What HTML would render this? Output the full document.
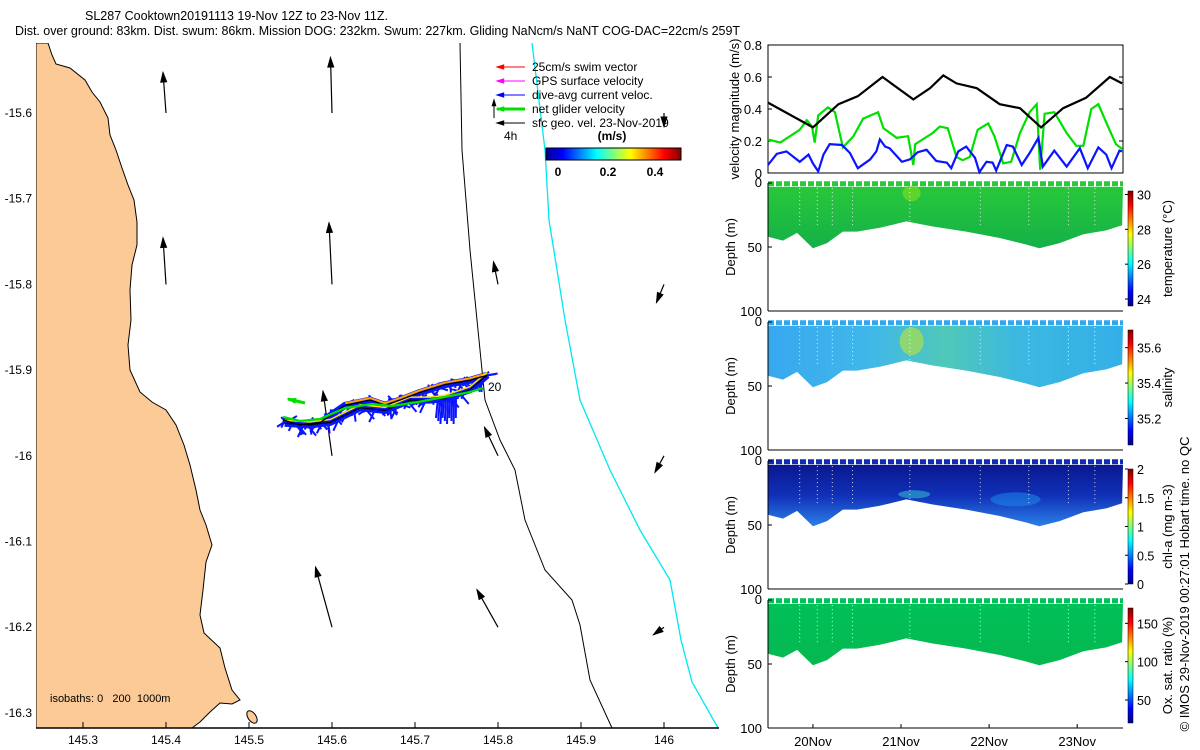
<!DOCTYPE html>
<html><head><meta charset="utf-8"><style>
html,body{margin:0;padding:0;background:#fff}
svg{display:block;font-family:"Liberation Sans",sans-serif}
</style></head><body>
<svg id="fig" width="1200" height="750" viewBox="0 0 1200 750" xmlns="http://www.w3.org/2000/svg">
<defs>
<linearGradient id="jetV" x1="0" y1="1" x2="0" y2="0">
<stop offset="0" stop-color="#00008f"/><stop offset="0.125" stop-color="#0000ff"/><stop offset="0.375" stop-color="#00ffff"/><stop offset="0.625" stop-color="#ffff00"/><stop offset="0.875" stop-color="#ff0000"/><stop offset="1" stop-color="#800000"/></linearGradient>
<linearGradient id="jetH" x1="0" y1="0" x2="1" y2="0">
<stop offset="0" stop-color="#00008f"/><stop offset="0.125" stop-color="#0000ff"/><stop offset="0.375" stop-color="#00ffff"/><stop offset="0.625" stop-color="#ffff00"/><stop offset="0.875" stop-color="#ff0000"/><stop offset="1" stop-color="#800000"/></linearGradient>
<linearGradient id="gTemp" x1="0" y1="0" x2="0" y2="1"><stop offset="0" stop-color="#28c83a"/><stop offset="1" stop-color="#14b048"/></linearGradient>
<linearGradient id="gSal" x1="0" y1="0" x2="1" y2="0"><stop offset="0" stop-color="#38a8f0"/><stop offset="0.3" stop-color="#40b8e8"/><stop offset="0.5" stop-color="#50c8b8"/><stop offset="0.7" stop-color="#3cb8e0"/><stop offset="1" stop-color="#34b0e8"/></linearGradient>
<linearGradient id="gChl" x1="0" y1="0" x2="0" y2="1"><stop offset="0" stop-color="#0a1890"/><stop offset="0.5" stop-color="#1030b8"/><stop offset="1" stop-color="#2c80e8"/></linearGradient>
<linearGradient id="gOx" x1="0" y1="0" x2="0" y2="1"><stop offset="0" stop-color="#00c058"/><stop offset="1" stop-color="#06b850"/></linearGradient>
<clipPath id="mapClip"><rect x="36" y="43" width="683" height="685"/></clipPath>
</defs>

<text x="85" y="20" font-size="12.5">SL287 Cooktown20191113 19-Nov 12Z to 23-Nov 11Z.</text>
<text x="15" y="35" font-size="12.5" textLength="725">Dist. over ground: 83km. Dist. swum: 86km. Mission DOG: 232km. Swum: 227km. Gliding NaNcm/s NaNT COG-DAC=22cm/s 259T</text>

<g id="map"></g>
<g id="vel"></g>
<g id="sections"></g>

<text transform="translate(1189,584) rotate(-90)" font-size="13" text-anchor="middle">© IMOS 29-Nov-2019 00:27:01 Hobart time. no QC</text>
</svg>
<script>
const NS='http://www.w3.org/2000/svg';
function mk(tag,attrs,parent,txt){const e=document.createElementNS(NS,tag);for(const k in attrs)e.setAttribute(k,attrs[k]);if(txt!==undefined)e.textContent=txt;parent.appendChild(e);return e;}

// ---------------- MAP DATA ----------------
const mapLonTicks=[145.3,145.4,145.5,145.6,145.7,145.8,145.9,146];
const mapLatTicks=[-15.6,-15.7,-15.8,-15.9,-16,-16.1,-16.2,-16.3];
const arrowLon=[145.4,145.6,145.8,146.0,145.4,145.6,145.8,146.0,145.6,145.8,146.0,145.6,145.8,146.0];
const arrowLat=[-15.6,-15.6,-15.6,-15.6,-15.8,-15.8,-15.8,-15.8,-16.0,-16.0,-16.0,-16.2,-16.2,-16.2];
const arrowU=[-0.02,-0.01,0,0,-0.02,-0.02,-0.03,-0.05,-0.06,-0.09,-0.06,-0.11,-0.14,-0.07];
const arrowV=[0.27,0.37,0,-0.09,0.31,0.41,0.15,-0.12,0.43,0.19,-0.11,0.40,0.25,-0.05];
const trackLon=[145.541,145.561,145.586,145.616,145.646,145.664,145.682,145.706,145.736,145.766,145.787,145.766,145.736,145.718,145.694,145.664,145.634,145.598,145.573,145.543];
const trackLat=[-15.958,-15.964,-15.961,-15.941,-15.935,-15.941,-15.935,-15.926,-15.917,-15.912,-15.906,-15.923,-15.933,-15.935,-15.935,-15.947,-15.944,-15.961,-15.964,-15.962];

const mx=lon=>83+(lon-145.3)*830;
const my=lat=>113+(-15.6-lat)*857;

const map=document.getElementById('map');
const mc=mk('g',{'clip-path':'url(#mapClip)'},map);
const coast=[[36,43],[48,43],[52,55],[56,64],[70,68],[85,80],[92,92],[100,102],[108,118],[110,135],[116,150],[122,168],[128,185],[134,200],[137,222],[137,245],[132,265],[130,290],[131,320],[128,345],[130,370],[140,392],[152,402],[166,410],[176,425],[184,445],[190,465],[196,490],[200,510],[206,525],[212,545],[206,562],[203,590],[200,615],[204,633],[220,648],[225,668],[232,690],[240,700],[232,704],[220,703],[210,712],[200,722],[192,728],[36,728]];
const land=mk('polygon',{points:coast.map(p=>p.join(',')).join(' '),fill:'#fcca96',stroke:'#000','stroke-width':1},mc);


const isl=mk('ellipse',{cx:252,cy:717,rx:4,ry:7,fill:'#fcca96',stroke:'#000','stroke-width':1,transform:'rotate(-35 252 717)'},mc);


const iso200=[[460,43],[462,150],[470,250],[478,330],[485,400],[500,440],[515,470],[525,520],[545,570],[572,600],[580,625],[590,680],[612,728]];
const iso1000=[[532,43],[545,150],[549,220],[565,320],[580,400],[610,470],[640,530],[670,580],[681,640],[692,682],[718,728]];
const i2=mk('polyline',{points:iso200.map(p=>p.join(',')).join(' '),fill:'none',stroke:'#000','stroke-width':1},mc);


const i1=mk('polyline',{points:iso1000.map(p=>p.join(',')).join(' '),fill:'none',stroke:'#00e8f0','stroke-width':1.3},mc);



function arrow(g,x1,y1,x2,y2,color,w,head){
  mk('line',{x1,y1,x2,y2,stroke:color,'stroke-width':w},g);
  const a=Math.atan2(y2-y1,x2-x1),h=head||8;
  const p1=[x2-h*Math.cos(a-0.3),y2-h*Math.sin(a-0.3)],p2=[x2-h*Math.cos(a+0.3),y2-h*Math.sin(a+0.3)];
  mk('polygon',{points:`${x2},${y2} ${p1} ${p2}`,fill:color,stroke:color,'stroke-width':1},g);
}
const SC=150;
for(let i=0;i<arrowLon.length;i++){
  if(arrowU[i]===0&&arrowV[i]===0)continue;
  const g=mk('g',{},mc);
  
  
  const x=mx(arrowLon[i]),y=my(arrowLat[i]);
  arrow(g,x,y,x+arrowU[i]*SC,y-arrowV[i]*SC,'#000',1.2,10);
}
const trk=mk('g',{},mc);


const tp=trackLon.map((l,i)=>[mx(l),my(trackLat[i])]);
for(let i=0;i<tp.length-1;i++){
  const [x1,y1]=tp[i],[x2,y2]=tp[i+1];
  for(let k=0;k<10;k++){
    const t=k/10,x=x1+(x2-x1)*t,y=y1+(y2-y1)*t;
    const ang=Math.PI*(0.1+1.8*((k*7+i*3)%10)/10);
    const L=5+((k*5+i)%4)*3;
    mk('line',{x1:x,y1:y,x2:x+L*Math.cos(ang),y2:y+L*Math.abs(Math.sin(ang))*((k%3)?1:-0.5),stroke:'#0a14ff','stroke-width':2},trk);
  }
}
mk('polyline',{points:tp.map(p=>p.join(',')).join(' '),fill:'none',stroke:'#0a14ff','stroke-width':7},trk);
for(let k=0;k<10;k++){mk('line',{x1:438+k*2,y1:398,x2:436+k*2.2,y2:418+(k%3)*3,stroke:'#0a14ff','stroke-width':2},trk);}
mk('polyline',{points:tp.slice(3,11).map(p=>p.join(',')).join(' '),fill:'none',stroke:'#ffa000','stroke-width':2,transform:'translate(0,-2)'},trk);
mk('polyline',{points:tp.slice(10).map(p=>p.join(',')).join(' '),fill:'none',stroke:'#ffe000','stroke-width':1.5,transform:'translate(0,-3)'},trk);
mk('polyline',{points:tp.map(p=>p.join(',')).join(' '),fill:'none',stroke:'#000','stroke-width':1.2},trk);
mk('polyline',{points:'283,417 300,421 320,419 345,408 372,404 392,406 418,402 445,397 470,392 483,388',fill:'none',stroke:'#00e000','stroke-width':2.2},trk);
arrow(trk,305,403,288,399,'#00e000',3,8);
mk('text',{x:488,y:391,'font-size':12},mc,'20');

const ax=mk('g',{},map);


mk('line',{x1:36,y1:728,x2:719,y2:728,stroke:'#000','stroke-width':1.5},ax);
mapLonTicks.forEach(l=>{const x=mx(l);mk('line',{x1:x,y1:728,x2:x,y2:722,stroke:'#000'},ax);
  const t=mk('text',{x:x,y:744,'font-size':12,'text-anchor':'middle'},ax,String(l));});
mapLatTicks.forEach(l=>{const y=my(l);
  const t=mk('text',{x:32,y:y+4,'font-size':12,'text-anchor':'end'},ax,String(l));});
const isoT=mk('text',{x:50,y:702,'font-size':11,style:'white-space:pre'},map,'isobaths: 0   200  1000m');



const lg=mk('g',{},map);


const legItems=[['#ff0000','25cm/s swim vector',1],['#ff00ff','GPS surface velocity',1],['#0000ff','dive-avg current veloc.',1],['#00e000','net glider velocity',3],['#000','sfc geo. vel. 23-Nov-2019',1]];
legItems.forEach((it,i)=>{const y=67+i*14;arrow(lg,525,y,497,y,it[0],it[2],7);mk('text',{x:532,y:y+4,'font-size':12},lg,it[1]);});
arrow(lg,494,118,494,100,'#000',1,6);
mk('text',{x:504,y:140,'font-size':12},lg,'4h');
mk('text',{x:612,y:140,'font-size':12,'font-weight':'bold','text-anchor':'middle'},lg,'(m/s)');
const hcb=mk('rect',{x:546,y:148,width:135,height:12,fill:'url(#jetH)',stroke:'#000','stroke-width':1},lg);


[['0',558],['0.2',608],['0.4',655]].forEach(a=>mk('text',{x:a[1],y:176,'font-size':12,'font-weight':'bold','text-anchor':'middle'},lg,a[0]));

// ---------------- VELOCITY DATA ----------------
const velTicks=[0,0.2,0.4,0.6,0.8];
const blackT=[19.49,20.00,20.29,20.51,20.79,21.14,21.33,21.48,21.63,21.86,22.12,22.35,22.59,22.84,23.10,23.37,23.51];
const blackV=[0.44,0.285,0.43,0.48,0.60,0.46,0.53,0.61,0.56,0.53,0.43,0.405,0.285,0.405,0.47,0.60,0.56];
const greenT=[19.49,19.63,19.85,19.93,19.99,20.02,20.06,20.17,20.25,20.34,20.46,20.57,20.74,20.80,20.95,21.08,21.14,21.16,21.36,21.44,21.53,21.63,21.70,21.78,21.87,21.99,22.06,22.16,22.25,22.35,22.46,22.54,22.58,22.63,22.74,22.88,22.99,23.07,23.16,23.24,23.35,23.44,23.51];
const greenV=[0.21,0.19,0.27,0.33,0.29,0.19,0.36,0.41,0.38,0.16,0.23,0.34,0.38,0.28,0.22,0.23,0.05,0.18,0.25,0.29,0.28,0.10,0.08,0.10,0.27,0.31,0.23,0.06,0.07,0.25,0.38,0.43,0.02,0.37,0.38,0.25,0.17,0.17,0.40,0.43,0.29,0.18,0.15];
const blueT=[19.49,19.59,19.70,19.85,19.95,20.00,20.06,20.12,20.19,20.33,20.42,20.51,20.65,20.72,20.76,20.82,20.87,21.01,21.10,21.19,21.29,21.40,21.52,21.57,21.65,21.74,21.84,21.89,21.97,22.04,22.08,22.20,22.27,22.37,22.46,22.56,22.61,22.74,22.88,23.03,23.12,23.24,23.33,23.39,23.48,23.51];
const blueV=[0.05,0.12,0.135,0.07,0.115,0.06,0.01,0.115,0.18,0.175,0.125,0.03,0.085,0.135,0.21,0.165,0.155,0.07,0.085,0.13,0.145,0.075,0.065,0.03,0.135,0.165,0.095,0.005,0.07,0.065,0.015,0.175,0.165,0.05,0.125,0.22,0.04,0.14,0.04,0.155,0.03,0.16,0.115,0.03,0.14,0.135];
const dayTicks=[20,21,22,23];
const dayLabels=['20Nov','21Nov','22Nov','23Nov'];

const X0=768,X1=1123,T0=19.49,T1=23.52;
const tx=t=>X0+(t-T0)/(T1-T0)*(X1-X0);
const vy=v=>173-v*160;
const vel=document.getElementById('vel');
mk('rect',{x:X0,y:45,width:X1-X0,height:128,fill:'none',stroke:'#000','stroke-width':1},vel);
velTicks.forEach(v=>{const y=vy(v);mk('line',{x1:X0,y1:y,x2:X0+4,y2:y,stroke:'#000'},vel);mk('line',{x1:X1,y1:y,x2:X1-4,y2:y,stroke:'#000'},vel);
  const t=mk('text',{x:762,y:y+5,'font-size':13,'text-anchor':'end'},vel,String(v));});
const vl=mk('text',{transform:'translate(739,109) rotate(-90)','font-size':13,'text-anchor':'middle'},vel,'velocity magnitude (m/s)');


function series(T,V,color,name){const p=mk('polyline',{points:T.map((t,i)=>tx(t)+','+vy(V[i])).join(' '),fill:'none',stroke:color,'stroke-width':2.2},vel);

}
series(greenT,greenV,'#00e000','net-glider-speed-line');
series(blackT,blackV,'#000','surface-geo-speed-line');
series(blueT,blueV,'#0a14ff','dive-avg-current-line');

// ---------------- SECTION DATA ----------------
const bottomT=[19.49,19.66,19.82,20.00,20.16,20.34,20.50,20.76,21.06,21.36,21.74,22.12,22.42,22.57,22.80,23.07,23.33,23.51];
const bottomD=[42,45,39,51,47,38,38,35,30,34,38,43,48,51,47,40,37,33];
const depthTicks=[0,50,100];
const panels=[
 {top:183,name:'temperature',label:'temperature (°C)',fill:'url(#gTemp)',surf:'#28c83a',cbTicks:[24,26,28,30],cbMin:23.6,cbMax:30.2,patch:'#8ee020'},
 {top:322,name:'salinity',label:'salinity',fill:'url(#gSal)',surf:'#30a8f0',cbTicks:[35.2,35.4,35.6],cbMin:35.05,cbMax:35.7,patch:'#c8e828'},
 {top:461,name:'chlorophyll',label:'chl-a (mg m-3)',fill:'url(#gChl)',surf:'#102cb0',cbTicks:[0,0.5,1,1.5,2],cbMin:0,cbMax:2,patch:'#30b8d0'},
 {top:600,name:'oxygen',label:'Ox. sat. ratio (%)',fill:'url(#gOx)',surf:'#00c058',cbTicks:[50,100,150],cbMin:20,cbMax:170,patch:null}
];
const sec=document.getElementById('sections');
panels.forEach((P,pi)=>{
  const g=mk('g',{},sec);
  
  
  const dy=d=>P.top+d*1.28;
  let pts=`${X0},${dy(3)} `+bottomT.map((t,i)=>tx(t)+','+dy(bottomD[i])).join(' ')+` ${X1},${dy(3)}`;
  mk('polygon',{points:pts,fill:P.fill},g);
  if(P.patch){
    if(pi===2){mk('ellipse',{cx:tx(21.15),cy:dy(26),rx:16,ry:4,fill:P.patch,opacity:0.6},g);
      mk('ellipse',{cx:tx(22.3),cy:dy(30),rx:25,ry:7,fill:'#1c90f0',opacity:0.5},g);}
    else {mk('ellipse',{cx:tx(21.12),cy:dy(pi===1?15:8),rx:pi===1?12:9,ry:pi===1?14:8,fill:P.patch,opacity:0.55},g);}
  }
  [19.85,20.05,20.22,20.45,21.1,21.9,22.45,22.9,23.2].forEach(t=>mk('line',{x1:tx(t),y1:dy(4),x2:tx(t),y2:dy(34),stroke:'#fff','stroke-width':1,'stroke-dasharray':'1 3',opacity:0.8},g));
  mk('line',{x1:X0,y1:dy(0.6),x2:X1,y2:dy(0.6),stroke:P.surf,'stroke-width':5,'stroke-dasharray':'6 2'},g);
  mk('line',{x1:X0,y1:P.top,x2:X0,y2:dy(100),stroke:'#000'},g);
  mk('line',{x1:X0,y1:dy(100),x2:X1,y2:dy(100),stroke:'#000'},g);
  depthTicks.forEach(d=>{mk('line',{x1:X0,y1:dy(d),x2:X0+4,y2:dy(d),stroke:'#000'},g);
    const t=mk('text',{x:762,y:dy(d)+(d===0?4:5),'font-size':13,'text-anchor':'end'},g,String(d));});
  const yl=mk('text',{transform:`translate(735,${dy(50)}) rotate(-90)`,'font-size':13,'text-anchor':'middle'},g,'Depth (m)');
  
  
  const cbTop=P.top+8,cbH=115;
  const cb=mk('rect',{x:1128,y:cbTop,width:5,height:cbH,fill:'url(#jetV)',stroke:'#000','stroke-width':0.5},g);
  
  
  P.cbTicks.forEach(v=>{const y=cbTop+cbH-(v-P.cbMin)/(P.cbMax-P.cbMin)*cbH;
    mk('line',{x1:1128,y1:y,x2:1125,y2:y,stroke:'#000'},g);
    mk('text',{x:1137,y:y+5,'font-size':12.5},g,String(v));});
  const cl=mk('text',{transform:`translate(1172,${cbTop+cbH/2}) rotate(-90)`,'font-size':13,'text-anchor':'middle'},g,P.label);
  
  
});
const ta=mk('g',{},sec);


dayTicks.forEach((d,i)=>{const x=tx(d);mk('line',{x1:x,y1:728,x2:x,y2:724,stroke:'#000'},ta);
  mk('text',{x:x,y:746,'font-size':13,'text-anchor':'middle'},ta,dayLabels[i]);});
</script>
</body></html>
